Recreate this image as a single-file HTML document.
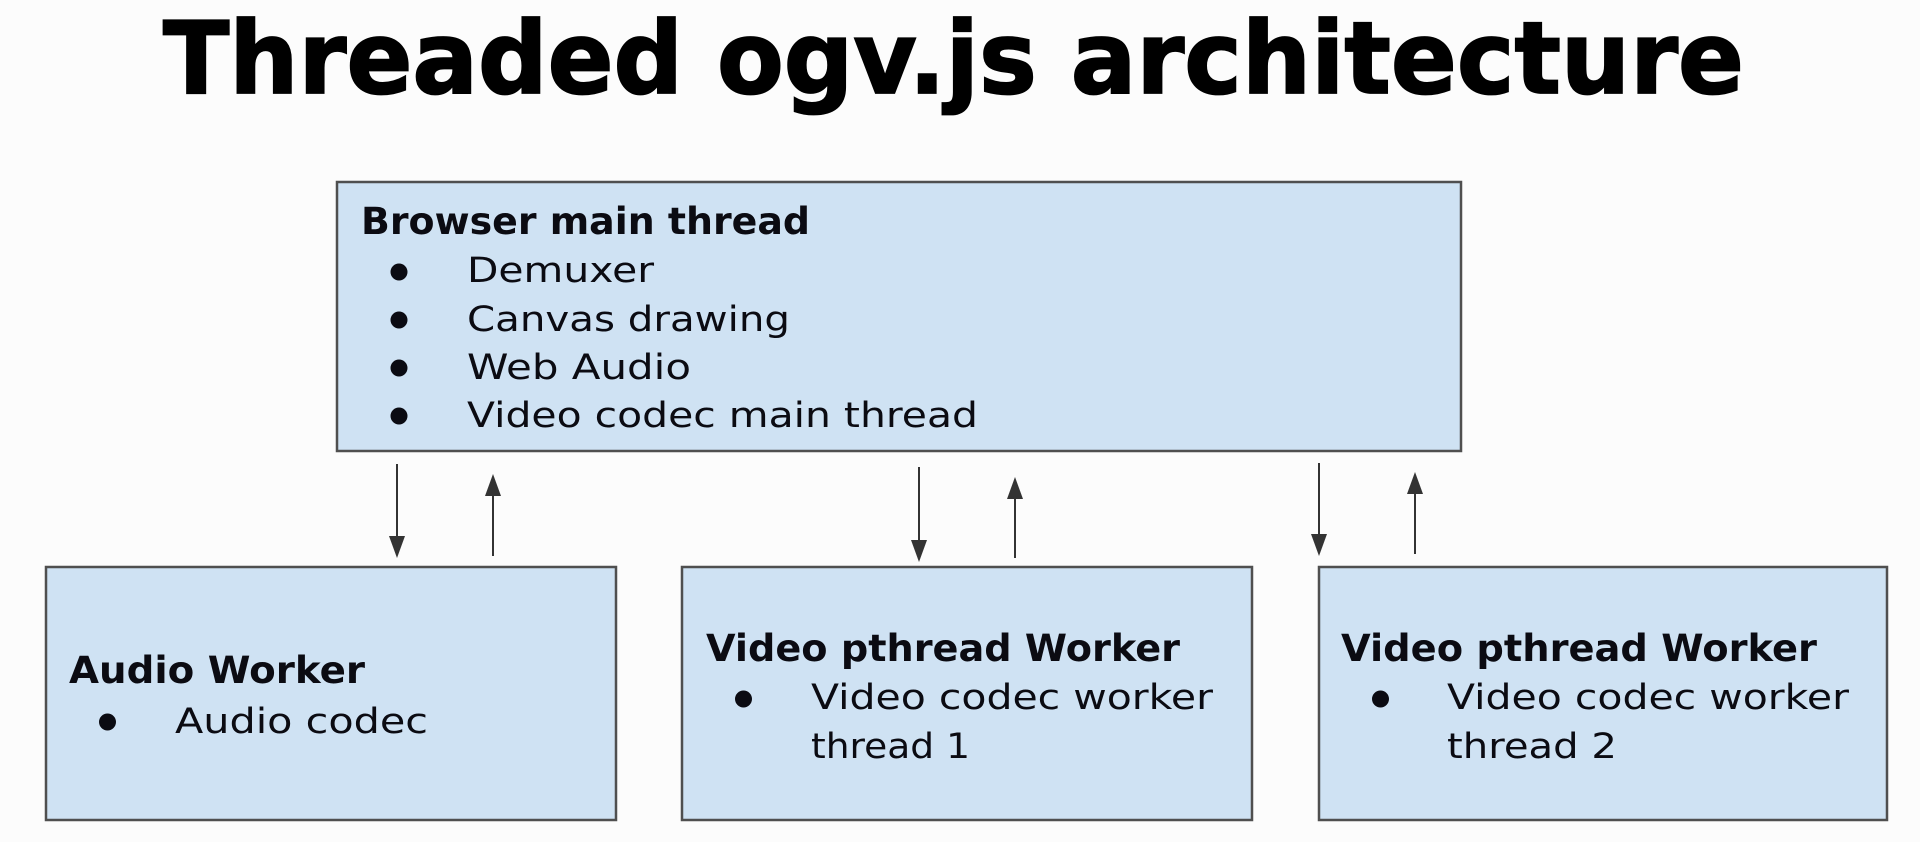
<!DOCTYPE html>
<html>
<head>
<meta charset="utf-8">
<style>
  html, body { margin: 0; padding: 0; background: #fafafa; }
  body { width: 1920px; height: 842px; overflow: hidden; }
  svg { display: block; }
  .t { font-family: "DejaVu Sans", "Liberation Sans", sans-serif; fill: #0b0b12; }
  .b { font-weight: bold; }
</style>
</head>
<body>
<svg width="1920" height="842" viewBox="0 0 1920 842" xmlns="http://www.w3.org/2000/svg">
  <rect x="0" y="0" width="1920" height="842" fill="#fcfcfc"/>

  <!-- Title -->
  <text x="163" y="93" class="t b" font-size="100" textLength="1581" lengthAdjust="spacingAndGlyphs" style="fill:#000;stroke:#000;stroke-width:1.8px">Threaded ogv.js architecture</text>

  <!-- Boxes -->
  <rect x="337" y="182" width="1124" height="269" fill="#cfe2f3" stroke="#4f4f4f" stroke-width="2.5"/>
  <rect x="46" y="567" width="570" height="253" fill="#cfe2f3" stroke="#4f4f4f" stroke-width="2.5"/>
  <rect x="682" y="567" width="570" height="253" fill="#cfe2f3" stroke="#4f4f4f" stroke-width="2.5"/>
  <rect x="1319" y="567" width="568" height="253" fill="#cfe2f3" stroke="#4f4f4f" stroke-width="2.5"/>

  <!-- Main box text -->
  <text x="361" y="234" class="t b" font-size="37" textLength="449" lengthAdjust="spacingAndGlyphs">Browser main thread</text>
  <circle cx="399" cy="272" r="8.5" fill="#0b0b12"/>
  <text x="467" y="282" class="t" font-size="35" textLength="187" lengthAdjust="spacingAndGlyphs">Demuxer</text>
  <circle cx="399" cy="320" r="8.5" fill="#0b0b12"/>
  <text x="467" y="331" class="t" font-size="35" textLength="323" lengthAdjust="spacingAndGlyphs">Canvas drawing</text>
  <circle cx="399" cy="368" r="8.5" fill="#0b0b12"/>
  <text x="467" y="379" class="t" font-size="35" textLength="224" lengthAdjust="spacingAndGlyphs">Web Audio</text>
  <circle cx="399" cy="416" r="8.5" fill="#0b0b12"/>
  <text x="467" y="427" class="t" font-size="35" textLength="511" lengthAdjust="spacingAndGlyphs">Video codec main thread</text>

  <!-- Audio worker -->
  <text x="69" y="683" class="t b" font-size="37" textLength="296" lengthAdjust="spacingAndGlyphs">Audio Worker</text>
  <circle cx="107.5" cy="722" r="8.5" fill="#0b0b12"/>
  <text x="175" y="733" class="t" font-size="35" textLength="253" lengthAdjust="spacingAndGlyphs">Audio codec</text>

  <!-- Video worker 1 -->
  <text x="706" y="661" class="t b" font-size="37" textLength="474" lengthAdjust="spacingAndGlyphs">Video pthread Worker</text>
  <circle cx="743.5" cy="699" r="8.5" fill="#0b0b12"/>
  <text x="811" y="709" class="t" font-size="35" textLength="402" lengthAdjust="spacingAndGlyphs">Video codec worker</text>
  <text x="811" y="758" class="t" font-size="35" textLength="159" lengthAdjust="spacingAndGlyphs">thread 1</text>

  <!-- Video worker 2 -->
  <text x="1341" y="661" class="t b" font-size="37" textLength="476" lengthAdjust="spacingAndGlyphs">Video pthread Worker</text>
  <circle cx="1380.5" cy="699" r="8.5" fill="#0b0b12"/>
  <text x="1447" y="709" class="t" font-size="35" textLength="402" lengthAdjust="spacingAndGlyphs">Video codec worker</text>
  <text x="1447" y="758" class="t" font-size="35" textLength="170" lengthAdjust="spacingAndGlyphs">thread 2</text>

  <!-- Arrows -->
  <g stroke="#333" stroke-width="2" fill="none">
    <line x1="397" y1="464" x2="397" y2="540"/>
    <line x1="493" y1="492" x2="493" y2="556"/>
    <line x1="919" y1="467" x2="919" y2="544"/>
    <line x1="1015" y1="495" x2="1015" y2="558"/>
    <line x1="1319" y1="463" x2="1319" y2="538"/>
    <line x1="1415" y1="490" x2="1415" y2="554"/>
  </g>
  <g fill="#333">
    <polygon points="389,536 405,536 397,558"/>
    <polygon points="485,496 501,496 493,474"/>
    <polygon points="911,540 927,540 919,562"/>
    <polygon points="1007,499 1023,499 1015,477"/>
    <polygon points="1311,534 1327,534 1319,556"/>
    <polygon points="1407,494 1423,494 1415,472"/>
  </g>
</svg>
</body>
</html>
